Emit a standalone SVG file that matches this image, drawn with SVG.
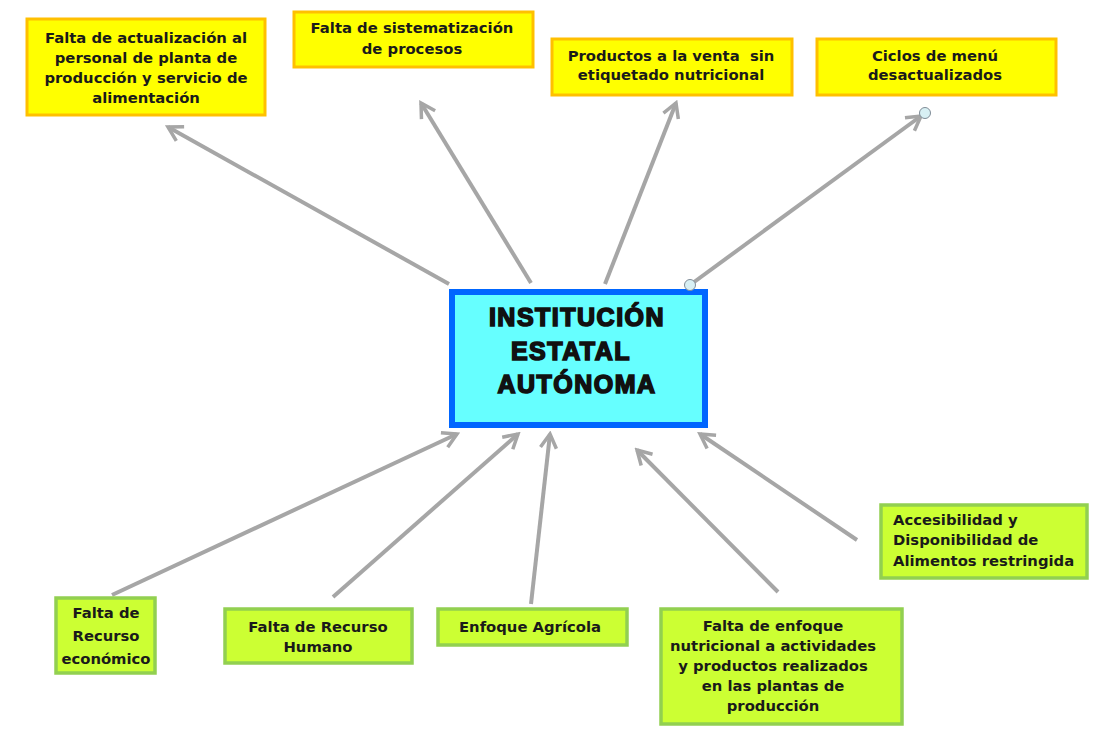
<svg xmlns="http://www.w3.org/2000/svg" width="1103" height="736" viewBox="0 0 1103 736">
<defs>
<marker id="arr" viewBox="0 0 20 20" refX="17" refY="10" markerWidth="20" markerHeight="20" markerUnits="userSpaceOnUse" orient="auto">
<polyline points="3,2 17,10 3,18" fill="none" stroke="#a6a6a6" stroke-width="3.5" stroke-linecap="butt" stroke-linejoin="miter"/>
</marker>
<style>
.y rect{fill:#ffff00;stroke:#ffc000;stroke-width:3}
.g rect{fill:#ccff33;stroke:#92d050;stroke-width:3.5}
.t{font-family:"DejaVu Sans","Liberation Sans",Arial,sans-serif;font-size:14.8px;font-weight:bold;fill:#1a1a1a;text-anchor:middle}
.c line{stroke:#a6a6a6;stroke-width:4;marker-end:url(#arr)}
.h{fill:#d8f0f4;stroke:#7f8c97;stroke-width:1}
.m{font-family:"Liberation Sans",Arial,sans-serif;font-size:25px;font-weight:900;fill:#111;stroke:#111;stroke-width:1.6;text-anchor:middle;letter-spacing:1.5px}
</style>
</defs>
<rect width="1103" height="736" fill="#ffffff"/>
<g id="connectors" class="c">
<line x1="449" y1="284" x2="168" y2="127"/>
<line x1="531" y1="283" x2="421" y2="103"/>
<line x1="605" y1="284" x2="676" y2="103"/>
<line x1="690" y1="285" x2="921" y2="116"/>
<line x1="112" y1="595" x2="457" y2="434"/>
<line x1="333" y1="597" x2="518" y2="434"/>
<line x1="531" y1="604" x2="550" y2="434"/>
<line x1="778" y1="592" x2="637" y2="450"/>
<line x1="857" y1="540" x2="700" y2="434"/>
</g>
<g id="n1" class="y"><rect x="27" y="19" width="238" height="96"/>
<text class="t" x="146" y="43">Falta de actualización al</text><text class="t" x="146" y="63">personal de planta de</text><text class="t" x="146" y="83">producción y servicio de</text><text class="t" x="146" y="103">alimentación</text></g>
<g id="n2" class="y"><rect x="294" y="12" width="239" height="55"/>
<text class="t" x="412" y="33">Falta de sistematización</text><text class="t" x="412" y="54">de procesos</text></g>
<g id="n3" class="y"><rect x="552" y="39" width="240" height="56"/>
<text class="t" x="671" y="61" style="white-space:pre">Productos a la venta  sin</text><text class="t" x="671" y="80">etiquetado nutricional</text></g>
<g id="n4" class="y"><rect x="817" y="39" width="239" height="56"/>
<text class="t" x="935" y="61">Ciclos de menú</text><text class="t" x="935" y="80">desactualizados</text></g>
<g id="center"><rect x="452" y="292" width="253" height="133" fill="#66ffff" stroke="#0066ff" stroke-width="6"/>
<text class="m" x="577" y="326">INSTITUCIÓN</text><text class="m" x="571" y="360">ESTATAL</text><text class="m" x="577" y="393">AUTÓNOMA</text></g>
<circle class="h" cx="690" cy="285" r="5.5"/>
<circle class="h" cx="925" cy="113" r="5.5"/>
<g id="b1" class="g"><rect x="56" y="598" width="99" height="75"/>
<text class="t" x="106" y="618">Falta de</text><text class="t" x="106" y="641">Recurso</text><text class="t" x="106" y="664">económico</text></g>
<g id="b2" class="g"><rect x="225" y="609" width="187" height="54"/>
<text class="t" x="318" y="632">Falta de Recurso</text><text class="t" x="318" y="652">Humano</text></g>
<g id="b3" class="g"><rect x="438" y="609" width="189" height="36"/>
<text class="t" x="530" y="632">Enfoque Agrícola</text></g>
<g id="b4" class="g"><rect x="661" y="609" width="241" height="115"/>
<text class="t" x="773" y="631">Falta de enfoque</text><text class="t" x="773" y="651">nutricional a actividades</text><text class="t" x="773" y="671">y productos realizados</text><text class="t" x="773" y="691">en las plantas de</text><text class="t" x="773" y="711">producción</text></g>
<g id="b5" class="g"><rect x="881" y="505" width="206" height="73"/>
<text class="t" x="893" y="525" style="text-anchor:start">Accesibilidad y</text><text class="t" x="893" y="545" style="text-anchor:start">Disponibilidad de</text><text class="t" x="893" y="566" style="text-anchor:start">Alimentos restringida</text></g>
</svg>
